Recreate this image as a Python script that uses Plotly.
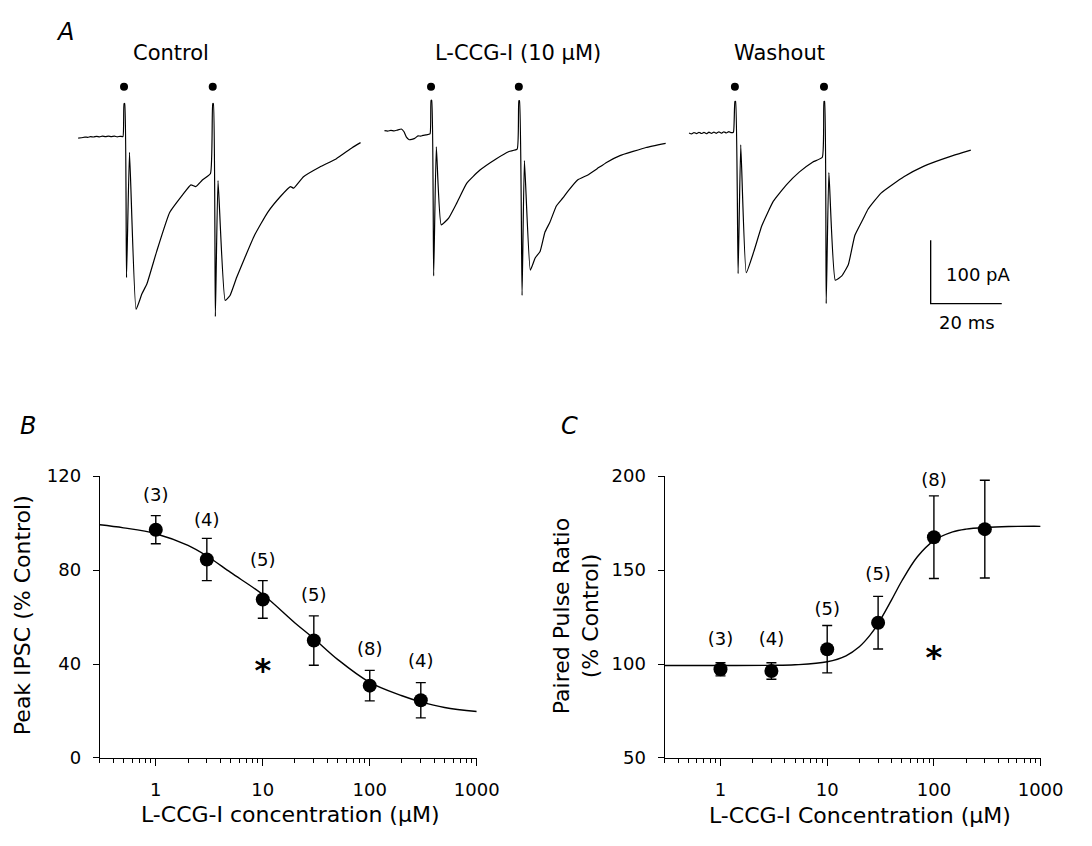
import plotly.graph_objects as go

W, H = 1092, 846
FONT = "DejaVu Sans"

# ---------------- panel A: sample traces (time in ms from 1st stimulus, current in pA)
CONTROL_T = [-12.9, -12.0, -11.0, -10.2, -9.4, -8.6, -7.7, -6.9, -6.1, -5.2, -4.4, -3.6, -2.7, -1.9, -1.1, -0.3,
             0.0, 0.2, 0.7, 1.54, 3.39, 5.04, 6.42, 9.17, 12.84, 16.53, 18.82, 20.19, 22.04, 24.33,
             24.96, 25.15, 25.7, 26.45, 28.46, 29.83, 31.68, 33.96, 36.72, 40.38, 44.07, 46.82, 47.74,
             50.5, 55.1, 59.67, 64.27, 66.56]
CONTROL_I = [-2.0, -1.5, -0.5, -0.8, 0.2, -0.3, 0.8, 0.0, 1.0, 0.2, 1.2, 0.4, 1.0, 0.0, 0.8, 0.5,
             52.3, 52.3, -222.0, -24.6, -272.3, -247.7, -232.3, -181.1, -119.5, -91.2, -75.8, -78.5, -68.2, -58.0,
             52.3, 52.3, -283.5, -69.2, -258.0, -250.3, -222.0, -191.2, -155.4, -119.5, -93.8, -78.5, -81.1,
             -63.1, -47.7, -34.9, -16.9, -9.2]

LCCG_T = [-13.1, -12.2, -11.3, -10.4, -9.5, -8.35, -7.6, -6.97, -6.14, -5.4, -4.6, -3.66, -2.9, -2.29, -1.4, -0.28,
          0.0, 0.2, 0.74, 1.49, 2.87, 4.96, 7.27, 10.03, 13.69, 18.29, 21.96, 24.24,
          24.71, 24.9, 25.62, 26.28, 27.94, 29.31, 30.69, 32.07, 33.45, 35.27, 37.11, 38.49, 41.24, 44.0,
          46.75, 49.51, 53.17, 56.86, 60.52, 66.03]
LCCG_I = [9.7, 9.0, 10.0, 9.2, 10.5, 12.3, 8.0, 0.0, -4.6, -4.0, -2.5, 1.5, 1.0, 2.3, 3.0, 4.6,
          57.4, 57.4, -219.5, -15.8, -138.9, -128.2, -104.2, -73.4, -52.8, -34.9, -23.1, -19.5,
          56.9, 56.9, -250.3, -37.4, -210.3, -191.2, -181.1, -150.3, -134.9, -109.2, -96.5, -86.2, -68.2, -60.5,
          -50.3, -40.0, -29.7, -23.1, -16.9, -10.3]

WASH_T = [-12.9, -12.2, -11.5, -10.8, -10.1, -9.4, -8.7, -8.0, -7.3, -6.6, -5.9, -5.2, -4.5, -3.8, -3.1, -2.4, -1.7, -1.0, -0.4,
          0.0, 0.2, 0.91, 1.65, 3.2, 5.32, 7.6, 10.83, 14.49, 18.18, 21.85, 24.6,
          25.07, 25.25, 25.7, 26.45, 28.26, 30.09, 31.93, 33.77, 36.08, 37.46, 41.13, 47.55, 53.06, 61.32, 66.39]
WASH_I = [6.0, 4.5, 6.8, 5.0, 7.2, 5.2, 7.0, 4.8, 7.3, 5.3, 7.5, 5.5, 7.8, 5.6, 8.0, 6.0, 8.2, 6.5, 7.5,
          55.8, 55.8, -215.8, -12.8, -214.3, -181.1, -140.0, -101.5, -75.8, -55.4, -40.0, -32.3,
          55.8, 55.8, -263.1, -56.5, -226.2, -219.5, -201.5, -155.4, -129.7, -114.3, -88.8, -63.1, -46.6, -29.7, -21.1]

TRACE_NAMES = ["Control", "L-CCG-I (10 \u03bcM)", "Washout"]
STIM_MS = [[0.0, 24.96], [0.0, 24.71], [0.0, 25.07]]

# ---------------- panel B / C: concentration-response
CONC = [1, 3, 10, 30, 100, 300]
N_CELLS = [3, 4, 5, 5, 8, 4]

PEAK_MEAN = [97.2, 84.5, 67.5, 50.0, 30.8, 24.6]
PEAK_SEM = [6.0, 9.0, 8.0, 10.5, 6.5, 7.5]
PEAK_FIT_X = [0.3, 0.5, 1, 2, 3, 5, 10, 20, 30, 50, 100, 200, 300, 500, 1000]
PEAK_FIT_Y = [99.3, 98.0, 95.5, 90.5, 86.0, 79.0, 69.6, 57.5, 50.9, 42.0, 32.2, 26.5, 23.9, 21.5, 19.8]

PPR_MEAN = [97.2, 96.3, 107.9, 122.0, 167.5, 171.8]
PPR_SEM = [3.5, 4.4, 12.6, 14.0, 22.0, 26.0]
PPR_FIT_X = [0.3, 1, 3, 5, 10, 15, 20, 25, 30, 40, 50, 70, 100, 150, 200, 300, 500, 1000]
PPR_FIT_Y = [99.2, 99.2, 99.3, 99.6, 101.2, 104.4, 109.2, 115.1, 121.5, 134.0, 144.2, 157.1, 165.7, 170.3,
             171.8, 172.7, 173.2, 173.3]

# ---------------- layout constants (pixels of the 1092x846 page)
PX_PER_MS = 3.63
PX_PER_PA = 0.65
A_ZERO_PX = 129          # y pixel of 0 pA
A_BOTTOM_PX = 340
TRACE_START_MS = [126.7 / PX_PER_MS, 440.3 / PX_PER_MS, 750.7 / PX_PER_MS]
DOT_PA = 79
SCALE_X_MS = 950.7 / PX_PER_MS
SCALE_Y_PA = (A_ZERO_PX - 300) / PX_PER_PA
PEAK_LABEL_Y = [111.5, 100.7, 83.8, 68.6, 45.6, 40.5]
PPR_LABEL_Y = [112.7, 112.7, 128.3, 147.3, 197.4, 205.2]


def px(x):
    return x / W


def py(y):
    return 1 - y / H


fig = go.Figure()

# panel A traces
for t, cur, t0 in zip([CONTROL_T, LCCG_T, WASH_T], [CONTROL_I, LCCG_I, WASH_I], TRACE_START_MS):
    fig.add_trace(go.Scatter(x=[v + t0 for v in t], y=cur, mode="lines",
                             line=dict(color="black", width=1.2, shape="spline", smoothing=0.4),
                             xaxis="x3", yaxis="y3", hoverinfo="skip"))
for stims, t0 in zip(STIM_MS, TRACE_START_MS):
    fig.add_trace(go.Scatter(x=[s + t0 for s in stims], y=[DOT_PA] * len(stims), mode="markers",
                             marker=dict(color="black", size=8), xaxis="x3", yaxis="y3"))
# scale bar 20 ms x 100 pA
fig.add_trace(go.Scatter(x=[SCALE_X_MS, SCALE_X_MS, SCALE_X_MS + 20],
                         y=[SCALE_Y_PA + 100, SCALE_Y_PA, SCALE_Y_PA], mode="lines",
                         line=dict(color="black", width=1.3), xaxis="x3", yaxis="y3"))

# panel B
fig.add_trace(go.Scatter(x=PEAK_FIT_X, y=PEAK_FIT_Y, mode="lines", line=dict(color="black", width=1.4, shape="spline"),
                         xaxis="x", yaxis="y"))
fig.add_trace(go.Scatter(x=CONC, y=PEAK_MEAN, mode="markers", marker=dict(color="black", size=14),
                         error_y=dict(type="data", array=PEAK_SEM, color="black", thickness=1.4, width=5),
                         xaxis="x", yaxis="y"))
fig.add_trace(go.Scatter(x=CONC, y=PEAK_LABEL_Y, mode="text", text=[f"({n})" for n in N_CELLS],
                         textfont=dict(size=18, color="black", family=FONT), cliponaxis=False,
                         xaxis="x", yaxis="y"))
fig.add_trace(go.Scatter(x=[10], y=[36], mode="text", text=["<b>*</b>"],
                         textfont=dict(size=32, color="black", family=FONT), xaxis="x", yaxis="y"))

# panel C
fig.add_trace(go.Scatter(x=PPR_FIT_X, y=PPR_FIT_Y, mode="lines", line=dict(color="black", width=1.4, shape="spline"),
                         xaxis="x2", yaxis="y2"))
fig.add_trace(go.Scatter(x=CONC, y=PPR_MEAN, mode="markers", marker=dict(color="black", size=14),
                         error_y=dict(type="data", array=PPR_SEM, color="black", thickness=1.4, width=5),
                         xaxis="x2", yaxis="y2"))
fig.add_trace(go.Scatter(x=CONC, y=PPR_LABEL_Y, mode="text", text=[f"({n})" for n in N_CELLS],
                         textfont=dict(size=18, color="black", family=FONT), cliponaxis=False,
                         xaxis="x2", yaxis="y2"))
fig.add_trace(go.Scatter(x=[100], y=[102], mode="text", text=["<b>*</b>"],
                         textfont=dict(size=32, color="black", family=FONT), xaxis="x2", yaxis="y2"))

log_axis = dict(type="log", range=[-0.5229, 3], tickvals=[1, 10, 100, 1000], ticktext=["1", "10", "100", "1000"],
                ticks="outside", ticklen=7, tickwidth=1.3, tickcolor="black",
                minor=dict(ticks="outside", ticklen=4, tickwidth=1.2, tickcolor="black", dtick="D1", showgrid=False),
                showline=True, linecolor="black", linewidth=1.3, showgrid=False, zeroline=False,
                tickfont=dict(size=18, color="black", family=FONT), ticklabelstandoff=8)
lin_axis = dict(ticks="outside", ticklen=6, tickwidth=1.3, tickcolor="black", showline=True,
                linecolor="black", linewidth=1.3, showgrid=False, zeroline=False,
                tickfont=dict(size=18, color="black", family=FONT), ticklabelstandoff=8)
hidden = dict(visible=False, showgrid=False, zeroline=False, fixedrange=True)

fig.update_layout(
    width=W, height=H, margin=dict(l=0, r=0, t=0, b=0),
    paper_bgcolor="white", plot_bgcolor="rgba(0,0,0,0)", showlegend=False,
    font=dict(family=FONT, color="black"),
    xaxis=dict(log_axis, domain=[px(102), px(487)], anchor="y"),
    yaxis=dict(lin_axis, domain=[py(766), py(477)], range=[0, 120], tickvals=[0, 40, 80, 120], anchor="x"),
    xaxis2=dict(log_axis, domain=[px(679), px(1063)], anchor="y2"),
    yaxis2=dict(lin_axis, domain=[py(766), py(477)], range=[50, 200], tickvals=[50, 100, 150, 200], anchor="x2"),
    xaxis3=dict(hidden, domain=[0, 1], range=[0, W / PX_PER_MS], anchor="y3"),
    yaxis3=dict(hidden, domain=[py(A_BOTTOM_PX), 1],
                range=[(A_ZERO_PX - A_BOTTOM_PX) / PX_PER_PA, A_ZERO_PX / PX_PER_PA], anchor="x3"),
)

ann = []


def label(text, x, y, size, **kw):
    ann.append(dict(text=text, x=px(x), y=py(y), xref="paper", yref="paper", showarrow=False,
                    xanchor=kw.pop("xanchor", "center"), yanchor="middle",
                    font=dict(size=size, color="black", family=FONT), **kw))


label("<i>A</i>", 66, 22, 24)
label("<i>B</i>", 29, 426, 24)
label("<i>C</i>", 582, 426, 24)
for name, cx in zip(TRACE_NAMES, [175, 529, 796]):
    label(name, cx, 43, 21)
label("100 pA", 964, 270, 18, xanchor="left")
label("20 ms", 988, 319, 18)
label("L-CCG-I concentration (\u03bcM)", 297, 824, 22)
label("L-CCG-I Concentration (\u03bcM)", 878, 825, 22)
label("Peak IPSC (% Control)", 23, 620, 22, textangle=-90)
label("Paired Pulse Ratio<br>(% Control)", 588, 621, 22, textangle=-90)
fig.update_layout(annotations=ann)

# zero the page body margin so the 1092x846 figure sits exactly in the window
fig.write_html("out.html", config={"displayModeBar": False},
               post_script="document.body.style.margin='0';document.body.style.overflow='hidden';")
